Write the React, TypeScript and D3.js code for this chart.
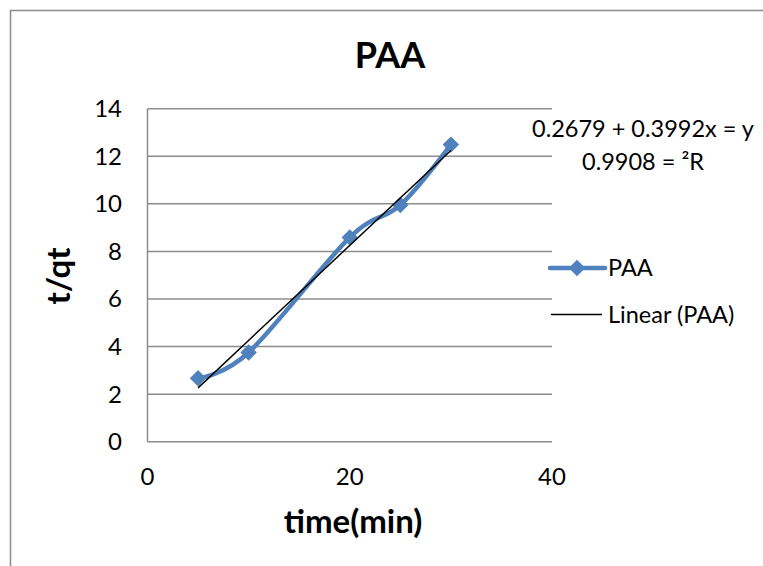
import { useEffect, useRef } from "react";
import * as d3 from "d3";

// data
const times = [5, 10, 20, 25, 30];
const paaValues = [2.67, 3.75, 8.59, 9.95, 12.49];
const xTicks = [0, 20, 40];
const yTicks = [0, 2, 4, 6, 8, 10, 12, 14];
const slope = 0.3992;
const intercept = 0.2679;
const equationLines = ["0.2679 + 0.3992x = y", "0.9908 = ²R"];
const legendLabels = ["PAA", "Linear (PAA)"];

const W = 763;
const H = 566;
const BLUE = "#4F81BD";
const GRID = "#8c8c8c";
const FONT = "Lato, 'Open Sans', sans-serif";

function App() {
  const svgRef = useRef<SVGSVGElement>(null);

  useEffect(() => {
    const svg = d3.select(svgRef.current);
    svg.selectAll("*").remove();

    const x = d3.scaleLinear().domain([0, 40]).range([147.5, 552]);
    const y = d3.scaleLinear().domain([0, 14]).range([441.7, 108.7]);

    // outer chart border (runs off the right and bottom edge)
    svg
      .append("rect")
      .attr("x", 10.5)
      .attr("y", 10.5)
      .attr("width", W + 20)
      .attr("height", H + 20)
      .attr("fill", "none")
      .attr("stroke", GRID)
      .attr("stroke-width", 1.5);

    // title
    svg
      .append("text")
      .attr("x", 390)
      .attr("y", 68)
      .attr("text-anchor", "middle")
      .style("font-family", FONT)
      .style("font-weight", "bold")
      .style("font-size", "36px")
      .text("PAA");

    // gridlines
    svg
      .append("g")
      .selectAll("line")
      .data(yTicks)
      .join("line")
      .attr("x1", x(0))
      .attr("x2", x(40))
      .attr("y1", (d) => y(d))
      .attr("y2", (d) => y(d))
      .attr("stroke", GRID)
      .attr("stroke-width", 1.5);

    // left axis line
    svg
      .append("line")
      .attr("x1", x(0))
      .attr("x2", x(0))
      .attr("y1", y(0))
      .attr("y2", y(14))
      .attr("stroke", GRID)
      .attr("stroke-width", 1.5);

    // y tick labels
    svg
      .append("g")
      .selectAll("text")
      .data(yTicks)
      .join("text")
      .attr("x", 122)
      .attr("y", (d) => y(d) + 8.5)
      .attr("text-anchor", "end")
      .style("font-family", FONT)
      .style("font-size", "24px")
      .text((d) => d);

    // x tick labels
    svg
      .append("g")
      .selectAll("text")
      .data(xTicks)
      .join("text")
      .attr("x", (d) => x(d))
      .attr("y", 485)
      .attr("text-anchor", "middle")
      .style("font-family", FONT)
      .style("font-size", "24px")
      .text((d) => d);

    // axis titles
    svg
      .append("text")
      .attr("x", 353)
      .attr("y", 533)
      .attr("text-anchor", "middle")
      .style("font-family", FONT)
      .style("font-weight", "bold")
      .style("font-size", "33px")
      .text("time(min)");

    svg
      .append("text")
      .attr("transform", "translate(70,276) rotate(-90)")
      .attr("text-anchor", "middle")
      .style("font-family", FONT)
      .style("font-weight", "bold")
      .style("font-size", "33px")
      .text("t/qt");

    // smoothed series line
    const pts = times.map((t, i) => [t, paaValues[i]] as [number, number]);
    const smooth = d3
      .line<[number, number]>()
      .x((d) => x(d[0]))
      .y((d) => y(d[1]))
      .curve(d3.curveCardinal.tension(0));

    svg
      .append("path")
      .attr("d", smooth(pts))
      .attr("fill", "none")
      .attr("stroke", BLUE)
      .attr("stroke-width", 4.5)
      .attr("stroke-linejoin", "round");

    const marker = d3.symbol().type(d3.symbolSquare).size(135);
    svg
      .append("g")
      .selectAll("path")
      .data(pts)
      .join("path")
      .attr("transform", (d) => `translate(${x(d[0])},${y(d[1])}) rotate(45)`)
      .attr("d", marker())
      .attr("fill", BLUE);

    // linear trendline
    const tMin = d3.min(times) as number;
    const tMax = d3.max(times) as number;
    svg
      .append("line")
      .attr("x1", x(tMin))
      .attr("y1", y(slope * tMin + intercept))
      .attr("x2", x(tMax))
      .attr("y2", y(slope * tMax + intercept))
      .attr("stroke", "black")
      .attr("stroke-width", 1.5);

    // trendline equation
    svg
      .append("g")
      .selectAll("text")
      .data(equationLines)
      .join("text")
      .attr("x", 643)
      .attr("y", (d, i) => 137 + i * 33)
      .attr("text-anchor", "middle")
      .style("font-family", FONT)
      .style("font-size", "23.5px")
      .text((d) => d);

    // legend
    const lg = svg.append("g");
    lg.append("line")
      .attr("x1", 550)
      .attr("x2", 605)
      .attr("y1", 268)
      .attr("y2", 268)
      .attr("stroke", BLUE)
      .attr("stroke-width", 4.5)
      .attr("stroke-linecap", "round");
    lg.append("path")
      .attr("transform", "translate(577,268) rotate(45)")
      .attr("d", marker())
      .attr("fill", BLUE);
    lg.append("line")
      .attr("x1", 551)
      .attr("x2", 602)
      .attr("y1", 314.5)
      .attr("y2", 314.5)
      .attr("stroke", "black")
      .attr("stroke-width", 1.5);
    lg.selectAll("text")
      .data(legendLabels)
      .join("text")
      .attr("x", 608)
      .attr("y", (d, i) => 276 + i * 47)
      .style("font-family", FONT)
      .style("font-size", "23.5px")
      .text((d) => d);
  }, []);

  return (
    <svg
      ref={svgRef}
      width={W}
      height={H}
      style={{ position: "absolute", left: 0, top: 0, background: "white" }}
    />
  );
}

export default App;
